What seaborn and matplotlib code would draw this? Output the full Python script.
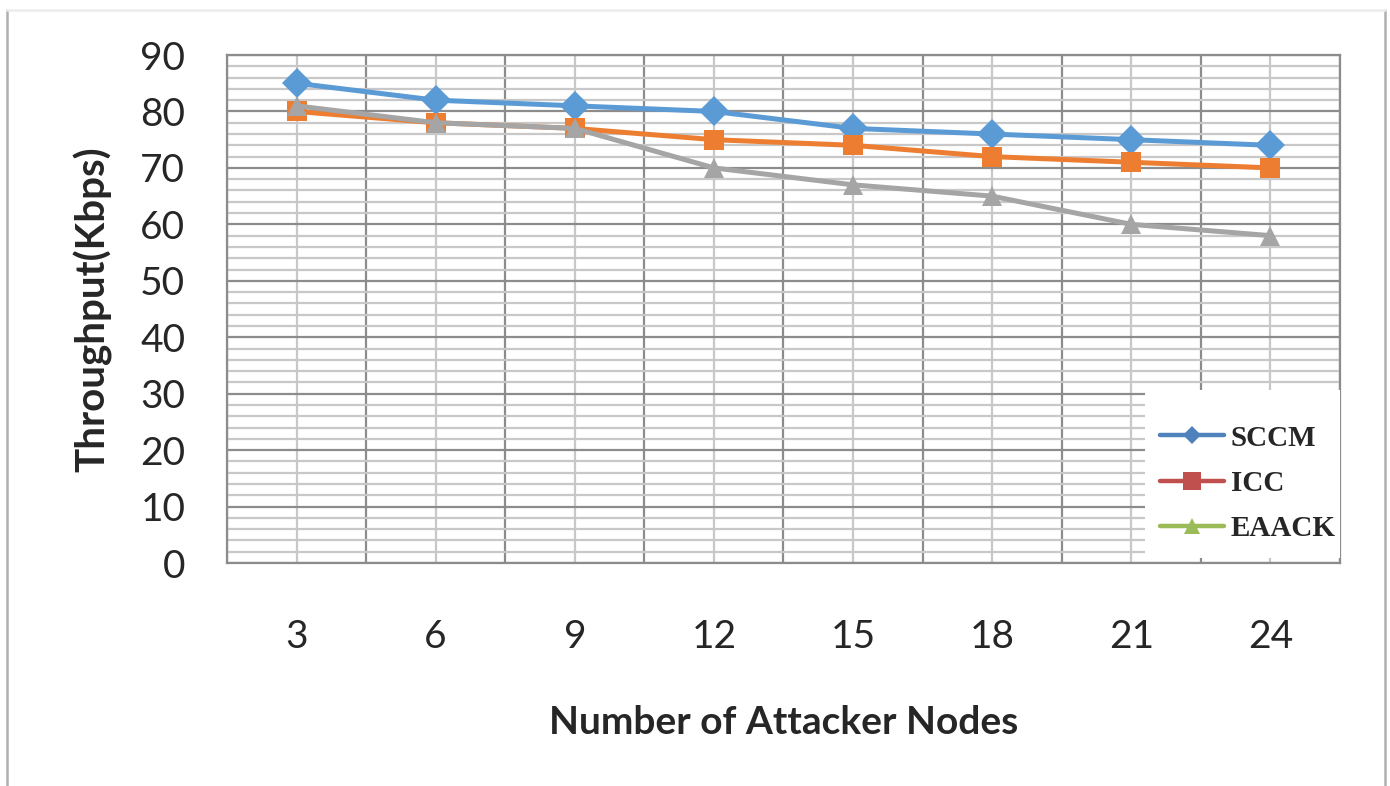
import matplotlib.pyplot as plt
import pandas as pd
import seaborn as sns
from matplotlib.lines import Line2D
from matplotlib.patches import Rectangle
from matplotlib.ticker import MultipleLocator

ATTACKERS = ["3", "6", "9", "12", "15", "18", "21", "24"]
SCCM = [85, 82, 81, 80, 77, 76, 75, 74]
ICC = [80, 78, 77, 75, 74, 72, 71, 70]
EAACK = [81, 78, 77, 70, 67, 65, 60, 58]

SERIES = ["SCCM", "ICC", "EAACK"]
LINE_COLORS = {"SCCM": "#5B9BD5", "ICC": "#ED7D31", "EAACK": "#A5A5A5"}
LEGEND_COLORS = {"SCCM": "#4F81BD", "ICC": "#C0504D", "EAACK": "#9BBB59"}
MARKERS = {"SCCM": "D", "ICC": "s", "EAACK": "^"}
LEGEND_MARKER_SIZES = {"SCCM": 9, "ICC": 13, "EAACK": 11}


def main() -> None:
    frame = pd.DataFrame(
        {
            "attackers": ATTACKERS * 3,
            "throughput": SCCM + ICC + EAACK,
            "method": [name for name in SERIES for _ in ATTACKERS],
        }
    )

    sns.set_theme(style="white")
    plt.rcParams["font.family"] = ["Lato", "DejaVu Sans"]

    fig = plt.figure(figsize=(13.9, 7.86), dpi=100)
    ax = fig.add_axes([0.1633, 0.2837, 0.8007, 0.6463])

    sns.lineplot(
        data=frame,
        x="attackers",
        y="throughput",
        hue="method",
        style="method",
        palette=LINE_COLORS,
        markers=MARKERS,
        dashes=False,
        linewidth=3.6,
        markersize=15,
        markeredgewidth=0,
        legend=False,
        sort=False,
        ax=ax,
        zorder=5,
    )

    ax.set_xlim(-0.5, len(ATTACKERS) - 0.5)
    ax.set_ylim(0, 90)
    ax.yaxis.set_major_locator(MultipleLocator(10))
    ax.yaxis.set_minor_locator(MultipleLocator(2))
    ax.xaxis.set_minor_locator(MultipleLocator(1, offset=0.5))
    ax.grid(True, which="minor", axis="y", color="#c8c8c8", linewidth=1.6)
    ax.grid(True, which="major", axis="y", color="#8c8c8c", linewidth=1.6)
    ax.grid(True, which="major", axis="x", color="#c8c8c8", linewidth=1.6)
    ax.grid(True, which="minor", axis="x", color="#8c8c8c", linewidth=1.6)
    ax.set_axisbelow(True)
    for spine in ax.spines.values():
        spine.set_color("#8c8c8c")
        spine.set_linewidth(1.6)

    ax.tick_params(axis="both", which="both", length=0, labelsize=28, labelcolor="#262626")
    ax.tick_params(axis="x", pad=40)
    ax.tick_params(axis="y", pad=30)
    ax.set_xlabel("Number of Attacker Nodes", fontsize=28, fontweight="bold", labelpad=36)
    ax.set_ylabel("Throughput(Kbps)", fontsize=29, fontweight="bold", labelpad=20)

    # white box that the legend sits in, covering the grid
    ax.add_patch(
        Rectangle((0.825, 0.01), 0.175, 0.33, transform=ax.transAxes,
                  facecolor="white", edgecolor="none", zorder=8)
    )
    handles = [
        Line2D([], [], color=LEGEND_COLORS[name], marker=MARKERS[name],
               linewidth=3.2, markersize=LEGEND_MARKER_SIZES[name], markeredgewidth=0)
        for name in SERIES
    ]
    legend = ax.legend(
        handles,
        SERIES,
        loc="lower right",
        bbox_to_anchor=(1.02, -0.01),
        frameon=False,
        handlelength=2.2,
        handletextpad=0.25,
        labelspacing=0.62,
        prop={"family": "Liberation Serif", "weight": "bold", "size": 21},
    )
    legend.set_zorder(9)

    # outer chart frame
    for xs, ys, color in [
        ((0.005, 0.005), (0.0, 0.987), "#b0b0b0"),
        ((0.9965, 0.9965), (0.0, 0.987), "#b0b0b0"),
        ((0.005, 0.9965), (0.987, 0.987), "#ececec"),
    ]:
        fig.add_artist(Line2D(xs, ys, color=color, linewidth=1.8, transform=fig.transFigure))

    fig.savefig("out.png", dpi=100)
    plt.close(fig)


if __name__ == "__main__":
    main()
